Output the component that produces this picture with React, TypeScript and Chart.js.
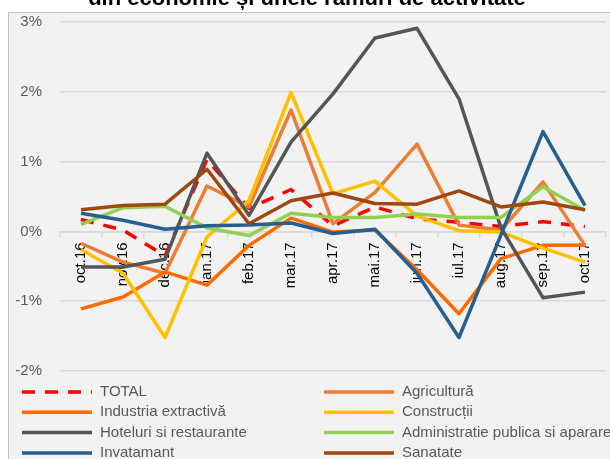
import React, { useEffect, useRef } from 'react';
import { Chart, registerables } from 'chart.js';

Chart.register(...registerables);

const categories = ['oct.16', 'nov.16', 'dec.16', 'ian.17', 'feb.17', 'mar.17', 'apr.17', 'mai.17', 'iun.17', 'iul.17', 'aug.17', 'sep.17', 'oct.17'];

const yTicks = [-2, -1, 0, 1, 2, 3];

const total = [0.17, 0.02, -0.35, 1.03, 0.33, 0.6, 0.08, 0.35, 0.18, 0.13, 0.07, 0.14, 0.07];
const agricultura = [-0.17, -0.44, -0.6, 0.65, 0.35, 1.74, 0.11, 0.56, 1.25, 0.09, 0.02, 0.71, -0.2];
const industria = [-1.11, -0.94, -0.58, -0.77, -0.2, 0.19, -0.01, 0.02, -0.55, -1.18, -0.39, -0.2, -0.2];
const constructii = [-0.26, -0.6, -1.52, -0.08, 0.44, 1.99, 0.54, 0.72, 0.22, 0.01, -0.01, -0.24, -0.44];
const hoteluri = [-0.51, -0.51, -0.4, 1.12, 0.23, 1.28, 1.97, 2.77, 2.91, 1.9, 0.05, -0.95, -0.87];
const administratie = [0.1, 0.34, 0.36, 0.05, -0.06, 0.26, 0.2, 0.2, 0.25, 0.2, 0.2, 0.64, 0.3];
const invatamant = [0.26, 0.16, 0.03, 0.08, 0.09, 0.12, -0.03, 0.03, -0.6, -1.52, -0.05, 1.43, 0.37];
const sanatate = [0.31, 0.37, 0.39, 0.89, 0.11, 0.44, 0.55, 0.4, 0.39, 0.58, 0.35, 0.42, 0.31];

const seriesLabels = ['TOTAL', 'Agricultură', 'Industria extractivă', 'Construcții', 'Hoteluri si restaurante', 'Administratie publica si aparare', 'Invatamant', 'Sanatate'];
const seriesValues = [total, agricultura, industria, constructii, hoteluri, administratie, invatamant, sanatate];
const seriesColors = ['#ff0000', '#ed7d31', '#ff6a00', '#ffc000', '#555555', '#92d050', '#255e91', '#9e480e'];

const titleText = 'din economie și unele ramuri de activitate';
const FONT = '"Liberation Sans", Arial, sans-serif';

const framePlugin = {
  id: 'frame',
  beforeDraw(chart: any) {
    const { ctx, width, height } = chart;
    ctx.save();
    ctx.fillStyle = '#ffffff';
    ctx.fillRect(0, 0, width, height);
    ctx.fillStyle = '#f2f2f2';
    ctx.fillRect(8, 12, width, height);
    ctx.strokeStyle = '#c4c4c4';
    ctx.lineWidth = 1;
    ctx.strokeRect(8.5, 12.5, width + 10, height + 10);
    ctx.fillStyle = '#000000';
    ctx.font = 'bold 22px ' + FONT;
    ctx.textAlign = 'center';
    ctx.textBaseline = 'alphabetic';
    ctx.fillText(titleText, 307, 5);
    ctx.restore();
  },
};

const legendPlugin = {
  id: 'customLegend',
  afterDraw(chart: any) {
    const { ctx } = chart;
    chart.data.datasets.forEach((ds: any, i: number) => {
      const col = i % 2;
      const row = Math.floor(i / 2);
      const x0 = col === 0 ? 22 : 324;
      const y = 392 + row * 20.3;
      ctx.save();
      ctx.strokeStyle = ds.borderColor;
      ctx.lineWidth = ds.borderWidth;
      ctx.setLineDash(ds.borderDash || []);
      ctx.beginPath();
      ctx.moveTo(x0, y);
      ctx.lineTo(x0 + 70, y);
      ctx.stroke();
      ctx.setLineDash([]);
      ctx.fillStyle = '#595959';
      ctx.font = '15px ' + FONT;
      ctx.textBaseline = 'middle';
      ctx.textAlign = 'left';
      ctx.fillText(ds.label, x0 + 78, y);
      ctx.restore();
    });
  },
};

export default function App() {
  const ref = useRef<HTMLCanvasElement | null>(null);

  useEffect(() => {
    if (!ref.current) return;
    const n = seriesLabels.length;
    const chart = new Chart(ref.current, {
      type: 'line',
      data: {
        labels: categories,
        datasets: seriesLabels.map((label, i) => ({
          label,
          data: seriesValues[i],
          borderColor: seriesColors[i],
          backgroundColor: seriesColors[i],
          borderWidth: 3.5,
          borderDash: i === 0 ? [13, 10] : [],
          borderJoinStyle: 'round' as const,
          pointRadius: 0,
          tension: 0,
          fill: false,
          order: n - i,
        })),
      },
      options: {
        responsive: false,
        animation: false,
        layout: { padding: { left: 8, top: 22, right: 4, bottom: 88 } },
        plugins: {
          legend: { display: false },
          tooltip: { enabled: false },
          title: { display: false },
        },
        scales: {
          x: {
            type: 'category',
            position: { y: 0 } as any,
            offset: true,
            grid: {
              display: true,
              drawOnChartArea: false,
              drawTicks: true,
              tickLength: 5,
              offset: true,
              color: '#d9d9d9',
              lineWidth: 1.5,
            },
            border: { display: true, color: '#d9d9d9', width: 1.5 },
            ticks: {
              minRotation: 90,
              maxRotation: 90,
              autoSkip: false,
              color: '#000000',
              font: { size: 15, family: FONT },
              padding: 6,
            },
          },
          y: {
            min: yTicks[0],
            max: yTicks[yTicks.length - 1],
            afterBuildTicks: (scale: any) => {
              scale.ticks = yTicks.map((v) => ({ value: v }));
            },
            afterFit: (scale: any) => {
              scale.width = 52;
            },
            ticks: {
              callback: (v: any) => v + '%',
              color: '#595959',
              font: { size: 15, family: FONT },
              padding: 0,
            },
            grid: {
              color: '#d9d9d9',
              lineWidth: 1.5,
              drawTicks: true,
              tickLength: 18,
              tickColor: 'rgba(0,0,0,0)',
            },
            border: { display: false },
          },
        },
      },
      plugins: [framePlugin, legendPlugin],
    });
    return () => chart.destroy();
  }, []);

  return (
    <div style={{ position: 'absolute', left: 0, top: 0, width: 610, height: 459, overflow: 'hidden' }}>
      <canvas ref={ref} width={610} height={459} style={{ display: 'block' }} />
    </div>
  );
}
